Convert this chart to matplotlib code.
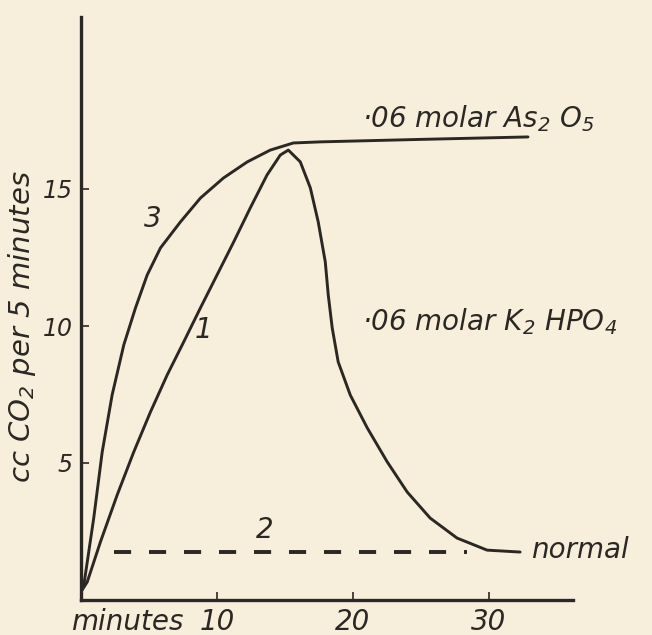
import matplotlib
matplotlib.use("Agg")
import matplotlib.pyplot as plt

# --- värden ---
# kurva 3: .06 molar As2O5
t3 = [0.0, 0.21, 0.94, 1.56, 2.29, 3.15, 4.01, 4.87, 5.85, 7.32, 8.79,
      10.48, 12.24, 13.93, 15.63, 17.61, 24.96, 32.9]
co2_3 = [0.3, 0.55, 3.0, 5.4, 7.48, 9.31, 10.66, 11.86, 12.85, 13.8, 14.67,
         15.4, 15.99, 16.42, 16.68, 16.72, 16.81, 16.9]

# kurva 1: .06 molar K2HPO4
t1 = [0.0, 0.46, 1.43, 2.66, 3.88, 5.11, 6.34, 7.56, 8.79, 10.01, 11.24,
      12.46, 13.69, 14.67, 15.26, 16.14, 16.88, 17.46, 17.98, 18.2, 18.49,
      18.93, 19.82, 21.07, 22.54, 24.01, 25.7, 27.68, 29.89, 32.32]
co2_1 = [0.3, 0.66, 2.12, 3.83, 5.4, 6.86, 8.21, 9.42, 10.66, 11.86, 13.07,
         14.31, 15.51, 16.24, 16.42, 15.99, 15.04, 13.8, 12.34, 11.13, 9.93,
         8.69, 7.48, 6.28, 5.04, 3.94, 2.99, 2.26, 1.82, 1.75]

# kurva 2: normal (streckad)
t2 = [2.4, 28.4]
co2_2 = [1.75, 1.75]

xticks = [10, 20, 30]
yticks = [5, 10, 15]

bg = '#f8eedc'
ink = '#2b2723'

plt.rcParams['font.family'] = 'DejaVu Sans'
plt.rcParams['mathtext.fontset'] = 'custom'
plt.rcParams['mathtext.rm'] = 'DejaVu Sans:italic'
plt.rcParams['mathtext.it'] = 'DejaVu Sans:italic'
plt.rcParams['mathtext.default'] = 'it'

fig = plt.figure(figsize=(6.52, 6.35), dpi=100, facecolor=bg)
W, H = 652, 635
ax = fig.add_axes([81 / W, (H - 600) / H, (573 - 81) / W, (600 - 17) / H])
ax.set_facecolor(bg)

ax.plot(t3, co2_3, color=ink, lw=2.1, solid_capstyle='round', solid_joinstyle='round')
ax.plot(t1, co2_1, color=ink, lw=2.1, solid_capstyle='round', solid_joinstyle='round')
ax.plot(t2, co2_2, color=ink, lw=2.8, linestyle=(0, (4.4, 4.6)), dash_capstyle='butt')

ax.set_xlim(0, (573 - 80.5) / 13.6)
ax.set_ylim(0, (600 - 17) / 27.4)

for s in ['top', 'right']:
    ax.spines[s].set_visible(False)
for s in ['left', 'bottom']:
    ax.spines[s].set_linewidth(2.4)
    ax.spines[s].set_color(ink)

fs = 20
ax.set_xticks(xticks)
ax.set_yticks(yticks)
ax.set_xticklabels([str(v) for v in xticks], fontsize=fs, fontstyle='italic', color=ink)
ax.set_yticklabels([str(v) for v in yticks], fontsize=17, fontstyle='italic', color=ink)
ax.tick_params(axis='both', direction='in', length=6, width=1.2, color=ink)
ax.tick_params(axis='x', pad=6)
ax.tick_params(axis='y', pad=6)

txt = dict(fontsize=fs, fontstyle='italic', color=ink, clip_on=False)
ax.text(3.4, -0.8, 'minutes', ha='center', va='center', **txt)
ax.text((22 - 81) / 492, (600 - 327) / 583, 'cc CO$_2$ per 5 minutes', rotation=90,
        ha='center', va='center', transform=ax.transAxes,
        fontsize=21, fontstyle='italic', color=ink)

ax.text(20.7, 17.26, '\u00b706 molar As$_2$ O$_5$', ha='left', va='baseline', **txt)
ax.text(20.7, 9.85, '\u00b706 molar K$_2$ HPO$_4$', ha='left', va='baseline', **txt)
ax.text(33.1, 1.53, 'normal', ha='left', va='baseline', **txt)
ax.text(5.3, 13.9, '3', ha='center', va='center', **txt)
ax.text(9.0, 9.85, '1', ha='center', va='center', **txt)
ax.text(13.5, 2.55, '2', ha='center', va='center', **txt)

fig.savefig('out.png', dpi=100, facecolor=bg)
